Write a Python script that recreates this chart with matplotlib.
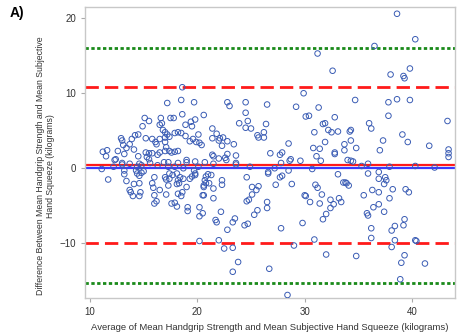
import matplotlib
matplotlib.use("Agg")
import matplotlib.pyplot as plt

plt.rcParams['font.family'] = ['Liberation Sans', 'DejaVu Sans']

# Points: (average, difference)
left_upper = [(18.6,10.8),(18.5,9.1),(19.7,8.8),(17.2,8.7),(22.8,8.8),(23.0,8.3),(24.5,8.8),(24.5,7.4),(18.6,7.2),(20.6,7.1),
(15.1,6.7),(15.5,6.3),(16.6,6.7),(17.5,6.7),(17.8,6.7),(19.8,6.5),(19.4,6.2),(23.9,6.0),(24.7,6.3),(14.9,5.6),(16.5,5.8),
(16.7,6.0),(18.9,5.8),(19.5,5.6),(24.5,5.4),(21.4,5.3),(18.2,4.8),(18.5,4.7),(14.5,4.5),(14.2,4.4),(13.9,3.9),(12.9,4.0),
(13.0,3.7),(13.1,3.1),(13.7,3.2),(13.4,2.7),(14.1,2.5),(15.2,4.0),(15.8,3.9),(16.5,3.9),(17.0,4.1),(17.2,4.5),(17.4,4.2),
(17.0,4.8),(16.8,5.1),(17.0,3.5),(16.1,3.5),(16.2,3.2),(17.1,2.8),(17.9,4.7),(18.9,4.3),(19.6,3.9),(19.9,3.5),(20.2,3.4),
(20.4,3.1),(19.3,3.6),(21.4,4.0),(21.8,4.6),(22.1,4.0),(22.4,4.1),(22.0,3.7),(22.8,3.6),(22.3,3.0),(23.4,3.2),(20.1,4.5),
(15.2,2.1),(15.5,2.0),(15.8,2.0),(14.5,1.6),(15.3,1.5),(15.5,1.2),(16.3,1.8),(16.5,2.1),(17.0,2.3),(17.4,2.3),(17.6,2.1),
(17.9,2.2),(18.2,2.3),(16.9,0.8),(17.3,0.8),(19.0,1.1),(19.0,0.8),(18.2,0.7),(19.8,0.9),(21.4,1.8),(21.5,1.6),(22.0,1.3),
(22.6,1.4),(22.7,1.1),(22.8,1.9),(23.6,1.7),(23.6,0.7),(11.2,2.2),(11.6,2.4),(11.5,1.6),(12.3,1.1),(12.4,1.2),(12.6,2.3),
(13.2,1.9),(13.0,0.7),(13.7,0.6),(14.6,0.6),(15.6,0.7),(20.7,0.8),(21.5,0.6)]

left_lower = [(11.1,-0.1),(11.7,-1.5),(12.2,0.2),(13.0,0.5),(13.2,-0.3),(13.2,-0.8),(13.4,-1.7),(13.7,-2.9),(13.8,-3.2),
(14.0,-3.7),(14.6,-3.7),(14.7,-3.2),(14.1,-2.1),(14.6,-2.0),(14.3,-0.3),(14.4,-0.7),(14.6,-1.0),(14.8,-0.6),(15.0,-0.4),
(14.4,0.2),(14.8,0.4),(15.8,-2.0),(15.9,-2.6),(16.0,-3.6),(16.2,-4.4),(16.0,-4.7),(16.5,-2.9),(16.0,-1.2),(16.3,0.4),
(17.0,-1.2),(17.1,-1.5),(17.1,-3.5),(17.4,-1.4),(17.4,-0.7),(17.7,-0.9),(17.6,-4.7),(17.9,-4.6),(18.1,-5.1),(18.2,-3.4),
(18.1,-2.1),(18.3,-2.0),(18.1,-0.7),(18.6,-3.2),(18.5,-3.7),(18.7,-1.4),(19.0,-2.5),(19.1,-5.2),(19.1,-5.7),(19.3,-1.4),
(19.5,-1.1),(19.7,-0.3),(19.8,-0.9),(19.8,-0.7),(20.2,-5.2),(20.2,-6.4),(20.5,-6.0),(20.5,-3.6),(20.6,-3.6),(20.6,-2.5),
(20.6,-2.3),(20.8,-1.1),(21.0,-0.8),(20.8,-2.0),(21.1,-2.0),(21.3,-0.9),(21.5,-4.0),(21.7,-6.9),(21.8,-7.2),(22.3,-1.6),
(22.3,-2.2),(22.2,-5.8),(22.8,-8.2),(23.3,-7.2),(23.5,-6.7),(22.0,-9.6),(20.2,-9.7),(22.5,-10.7),(23.3,-10.6),(23.8,-12.5),
(23.3,-13.8),(24.6,-1.2),(24.4,-7.6),(24.7,-7.4),(24.6,-4.4),(24.8,-4.2),(23.6,0.5),
(17.3,0.2),(17.9,0.2),(18.7,0.0),(20.1,0.2),(18.2,-1.6),(18.4,-1.2),(17.3,-2.3),(21.5,-2.7),(20.7,-1.6)]

right_upper = [(38.6,20.6),(40.3,17.2),(36.5,16.3),(31.2,15.3),(32.6,13.0),(39.8,13.3),(38.0,12.5),(39.2,12.3),(39.3,12.0),
(29.9,10.0),(34.7,9.1),(38.6,9.2),(39.8,9.1),(37.8,8.8),(26.5,8.5),(29.2,8.2),(31.3,8.1),(30.1,6.9),(30.4,7.0),(32.8,6.8),
(37.8,7.0),(43.3,6.3),(31.7,5.9),(31.9,6.0),(36.0,6.0),(36.2,5.3),(26.4,5.9),(25.0,5.3),(26.2,4.8),(25.6,4.4),(25.7,4.1),
(26.2,4.1),(30.9,4.8),(32.2,5.1),(32.5,4.8),(33.1,4.9),(34.2,4.9),(34.3,5.1),(39.1,4.5),(28.5,3.3),(31.9,3.5),(33.7,3.2),
(34.3,3.7),(37.3,3.7),(39.6,3.5),(41.6,3.0),(43.4,2.5),(43.4,2.0),(43.4,1.5),(30.8,2.7),(31.4,2.6),(34.8,2.7),(37.0,2.4),
(26.8,2.0),(27.7,1.8),(27.9,2.1),(32.8,1.9),(32.8,2.1),(31.1,1.6),(28.7,1.2),(28.6,1.0),(29.6,1.0),(31.5,1.0),(33.7,2.4),
(34.0,1.1),(34.3,1.0),(34.5,0.9),(27.8,0.7),(35.9,0.6)]

right_lower = [(26.6,-0.5),(26.6,-0.7),(27.9,-1.0),(27.7,-1.2),(28.5,-0.3),(30.7,-0.1),(33.1,-0.8),(25.7,-2.4),(25.1,-2.5),
(25.5,-2.9),(27.3,-2.2),(28.8,-2.1),(25.1,-3.5),(31.0,-2.2),(31.2,-2.6),(30.0,-3.6),(30.1,-3.7),(31.6,-3.5),(33.6,-1.9),
(33.8,-1.9),(33.9,-2.0),(34.1,-2.3),(35.5,-3.6),(36.3,-2.9),(36.9,-3.2),(36.9,-1.4),(36.9,-0.5),(37.5,-1.2),(37.6,-1.6),
(37.4,-2.1),(38.2,-2.8),(39.4,-2.8),(39.7,-3.2),(37.9,-4.0),(26.5,-4.5),(26.5,-5.3),(25.6,-5.6),(25.3,-6.2),(30.5,-4.5),
(31.4,-4.7),(32.4,-4.2),(33.2,-4.0),(33.4,-4.5),(32.7,-4.8),(32.4,-5.3),(32.0,-6.1),(31.7,-6.8),(36.4,-5.2),(36.9,-4.8),
(37.4,-5.8),(35.8,-6.0),(35.9,-6.3),(36.2,-8.0),(36.2,-9.3),(29.8,-7.3),(27.8,-8.0),(30.9,-9.5),(29.0,-10.3),(32.0,-11.5),
(34.8,-11.7),(26.7,-13.4),(28.4,-16.9),(38.4,-7.7),(38.1,-8.3),(39.3,-6.8),(39.2,-7.6),(38.4,-9.6),(38.1,-10.5),(40.3,-9.6),
(40.4,-9.7),(39.3,-11.6),(39.0,-12.6),(41.2,-12.7),(38.9,-14.8),
(24.9,0.2),(27.2,0.0),(35.3,0.3),(35.9,-0.7),(37.9,0.2),(40.3,0.3),(42.1,0.1)]

points = left_upper + left_lower + right_upper + right_lower
avg = [p[0] for p in points]
diff = [p[1] for p in points]

mean_diff = 0.4
loa_upper, loa_lower = 10.8, -10.0
outer_upper, outer_lower = 16.0, -15.3

xticks = [10, 20, 30, 40]
yticks = [-10, 0, 10, 20]

fig = plt.figure(figsize=(4.57, 3.34), dpi=100)
ax = fig.add_axes([85/457, 1-298/334, 370/457, 291/334])

ax.axhline(outer_upper, color='#1a8a1a', lw=2.0, ls=(0, (1.2, 0.9)), zorder=2)
ax.axhline(outer_lower, color='#1a8a1a', lw=2.0, ls=(0, (1.2, 0.9)), zorder=2)
ax.axhline(loa_upper, color='#ff1a1a', lw=2.0, ls=(0, (4.8, 2.2)), zorder=2)
ax.axhline(loa_lower, color='#ff1a1a', lw=2.0, ls=(0, (4.8, 2.2)), zorder=2)
ax.axhline(0, color='#3a3aff', lw=1.6, zorder=2)
ax.axhline(mean_diff, color='#ff1a1a', lw=1.6, zorder=2)

ax.scatter(avg, diff, s=16, facecolors='none', edgecolors='#3a5cb4', linewidths=0.7, zorder=3)

ax.set_xlim(9.54, 44.0)
ax.set_ylim(-17.3, 21.5)
ax.set_xticks(xticks)
ax.set_yticks(yticks)
ax.tick_params(labelsize=7, colors='#333333', length=3, width=0.8)
ax.tick_params(axis='both', color='#aaaaaa')
for sp in ax.spines.values():
    sp.set_color('#c8c8c8')
    sp.set_linewidth(1.0)

ax.set_xlabel('Average of Mean Handgrip Strength and Mean Subjective Hand Squeeze (kilograms)',
              fontsize=6.8, color='#333333', labelpad=4)
ax.set_ylabel('Difference Between Mean Handgrip Strength and Mean Subjective\nHand Squeeze (kilograms)',
              fontsize=6.3, color='#333333', labelpad=6, linespacing=1.15)
ax.yaxis.set_label_coords(-0.08, 0.455)

fig.text(10/457, 1-13/334, 'A)', fontsize=10, fontweight='bold', va='center', ha='left')

fig.savefig('out.png', dpi=100)
